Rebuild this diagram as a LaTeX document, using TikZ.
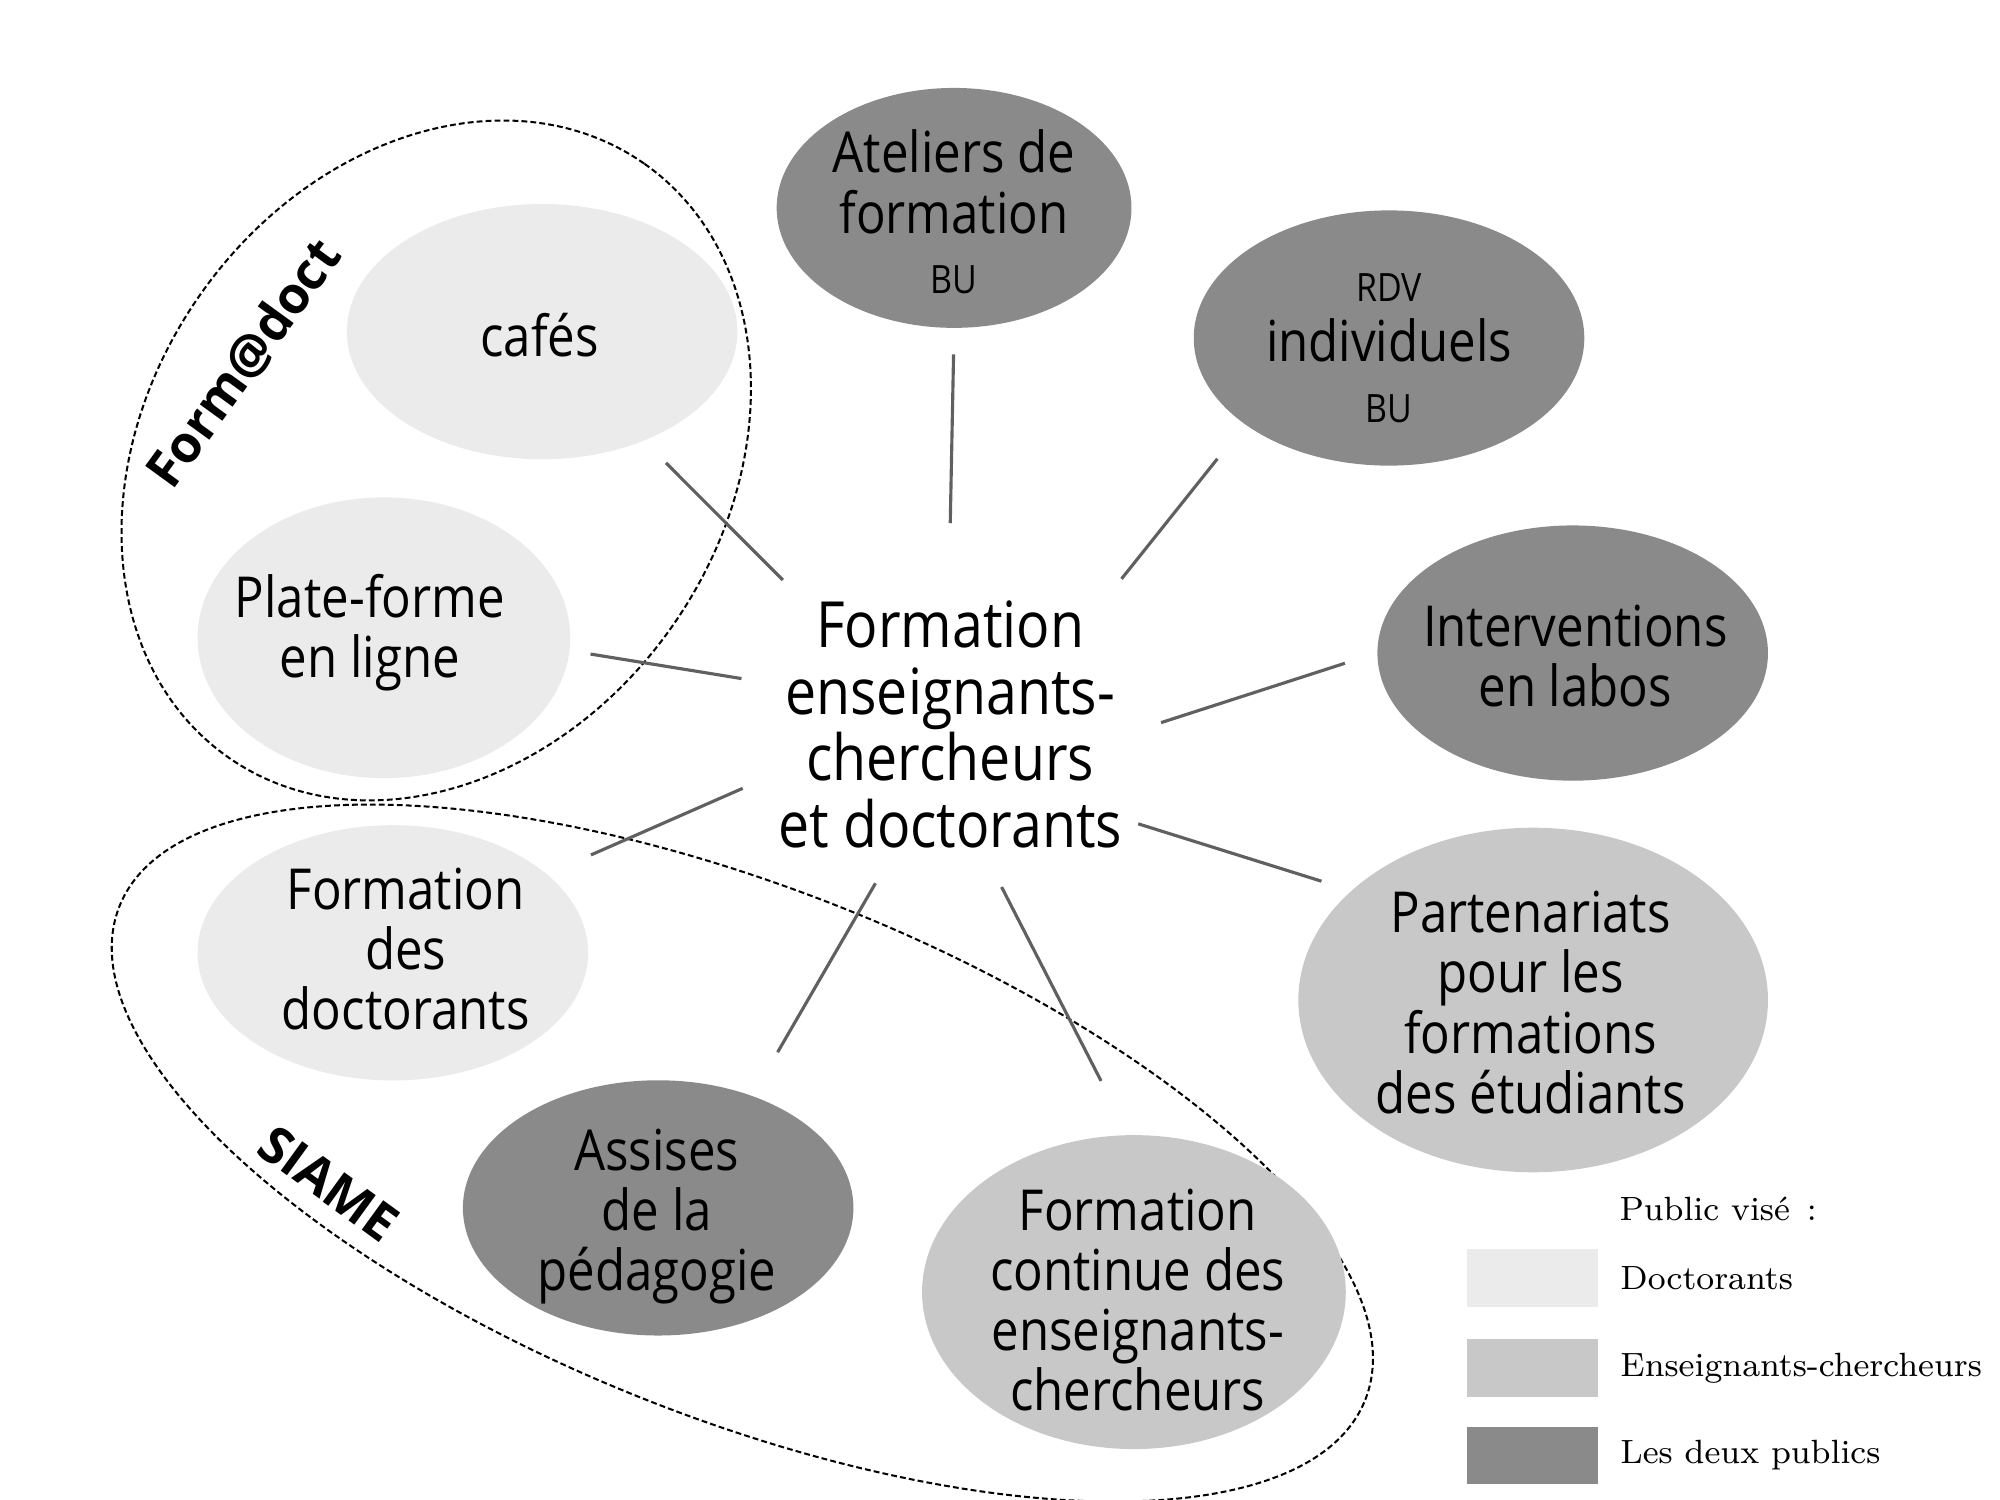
\documentclass[tikz,border=0pt]{standalone}
\usepackage{fontspec}
\usepackage{tikz}
\newfontfamily\bubblefont[FakeStretch=0.87]{Open Sans}
\newfontfamily\tagfont{Open Sans}
\newcommand{\capsmall}[1]{{\fontsize{8.7}{9}\selectfont #1}}
\usetikzlibrary{shapes.geometric}
\usetikzlibrary{positioning}
\definecolor{lightfill}{HTML}{EBEBEB}
\definecolor{midfill}{HTML}{C8C8C8}
\definecolor{darkfill}{HTML}{8A8A8A}
\definecolor{linkgray}{HTML}{606060}
\tikzset{
    bubble/.style={ellipse,inner sep=0pt,draw=none},
    bubbletext/.style={align=center,inner sep=0pt,font=\bubblefont\fontsize{12.6}{13.4}\selectfont},
    hubtext/.style={align=center,inner sep=0pt,font=\bubblefont\fontsize{14.2}{14.8}\selectfont},
    spoke/.style={draw=linkgray,line width=0.7pt},
    ring/.style={ellipse,draw,dash pattern=on 1.3pt off 0.7pt,line width=0.45pt,inner sep=0pt},
    ringlabel/.style={font=\tagfont\bfseries\fontsize{11.4}{13}\selectfont,inner sep=0pt},
    keybox/.style={minimum width=1.03cm,minimum height=0.45cm,inner sep=0pt},
    keytext/.style={font=\fontsize{7.5}{9}\selectfont,inner sep=0pt,anchor=west}
}

\begin{document}
\begin{tikzpicture}[x=0.01cm,y=-0.01cm]
    \useasboundingbox (0,0) rectangle (1568,1176);

    % groups
    \node[ring,minimum width=5.68cm,minimum height=4.52cm,rotate=55] (formadoct) at (342,361) {};
    \node[ring,minimum width=10.5cm,minimum height=4.15cm,rotate=-21.6] (siame) at (582,904) {};
    \node[ringlabel,rotate=54] (formadoct-tag) at (191,285) {Form@doct};
    \node[ringlabel,rotate=-36] (siame-tag) at (258,928) {SIAME};

    % centre
    \node[bubble,minimum width=3.30cm,minimum height=2.88cm] (hub) at (745,555) {};
    \node[hubtext] (hub-text) at (745,568) {Formation\\enseignants-\\chercheurs\\et doctorants};

    % bubbles
    \node[bubble,fill=darkfill,minimum width=2.78cm,minimum height=1.88cm] (ateliers) at (748,163) {};
    \node[bubbletext] (ateliers-text) at (748,166) {Ateliers de\\formation\\\capsmall{BU}};

    \node[bubble,fill=darkfill,minimum width=3.06cm,minimum height=2.00cm] (rdv) at (1089,265) {};
    \node[bubbletext] (rdv-text) at (1089,273) {\capsmall{RDV}\\individuels\\\capsmall{BU}};

    \node[bubble,fill=darkfill,minimum width=3.06cm,minimum height=2.00cm] (interv) at (1233,512) {};
    \node[bubbletext] (interv-text) at (1235,514) {Interventions\\en labos};

    \node[bubble,fill=midfill,minimum width=3.68cm,minimum height=2.70cm] (parten) at (1202,784) {};
    \node[bubbletext] (parten-text) at (1200,786) {Partenariats\\pour les\\formations\\des étudiants};

    \node[bubble,fill=midfill,minimum width=3.32cm,minimum height=2.46cm] (fcont) at (889,1013) {};
    \node[bubbletext] (fcont-text) at (892,1019) {Formation\\continue des\\enseignants-\\chercheurs};

    \node[bubble,fill=darkfill,minimum width=3.06cm,minimum height=2.00cm] (assises) at (516,947) {};
    \node[bubbletext] (assises-text) at (515,954) {Assises\\de la\\pédagogie};

    \node[bubble,fill=lightfill,minimum width=3.06cm,minimum height=2.00cm] (fdoct) at (308,747) {};
    \node[bubbletext] (fdoct-text) at (318,744) {Formation\\des\\doctorants};

    \node[bubble,fill=lightfill,minimum width=2.92cm,minimum height=2.20cm] (plate) at (301,500) {};
    \node[bubbletext] (plate-text) at (290,496) {Plate-forme\\en ligne};

    \node[bubble,fill=lightfill,minimum width=3.06cm,minimum height=2.00cm] (cafes) at (425,260) {};
    \node[bubbletext] (cafes-text) at (423,263) {cafés};

    % spokes
    \draw[spoke,shorten <=0.08cm,shorten >=0.24cm] (hub.143) -- (cafes.-47);
    \draw[spoke,shorten >=0.16cm] (hub.172) -- (plate.-4);
    \draw[spoke,shorten <=0.12cm,shorten >=0.37cm] (hub.-159) -- (fdoct.27);
    \draw[spoke,shorten <=0.02cm,shorten >=0.39cm] (hub.-113) -- (assises.50);
    \draw[spoke,shorten >=0.47cm] (hub.-74) -- (fcont.92);
    \draw[spoke,shorten <=0.15cm,shorten >=0.24cm] (hub.-33) -- (parten.149);
    \draw[spoke,shorten >=0.26cm] (hub.-4) -- (interv.180);
    \draw[spoke,shorten <=0.11cm,shorten >=0.34cm] (hub.36) -- (rdv.-149);
    \draw[spoke,shorten >=0.20cm] (hub.90) -- (ateliers.-90);

    % legend
    \node[keytext] (key-title) at (1269,948) {Public visé\enspace:};
    \node[keybox,fill=lightfill] (key-doct) at (1201.5,1002) {};
    \node[keybox,fill=midfill,below=0.24cm of key-doct] (key-ens) {};
    \node[keybox,fill=darkfill,below=0.22cm of key-ens] (key-both) {};
    \node[keytext,right=0.16cm of key-doct] (key-doct-text) {Doctorants};
    \node[keytext,right=0.16cm of key-ens] (key-ens-text) {Enseignants-chercheurs};
    \node[keytext,right=0.16cm of key-both] (key-both-text) {Les deux publics};
\end{tikzpicture}
\end{document}
